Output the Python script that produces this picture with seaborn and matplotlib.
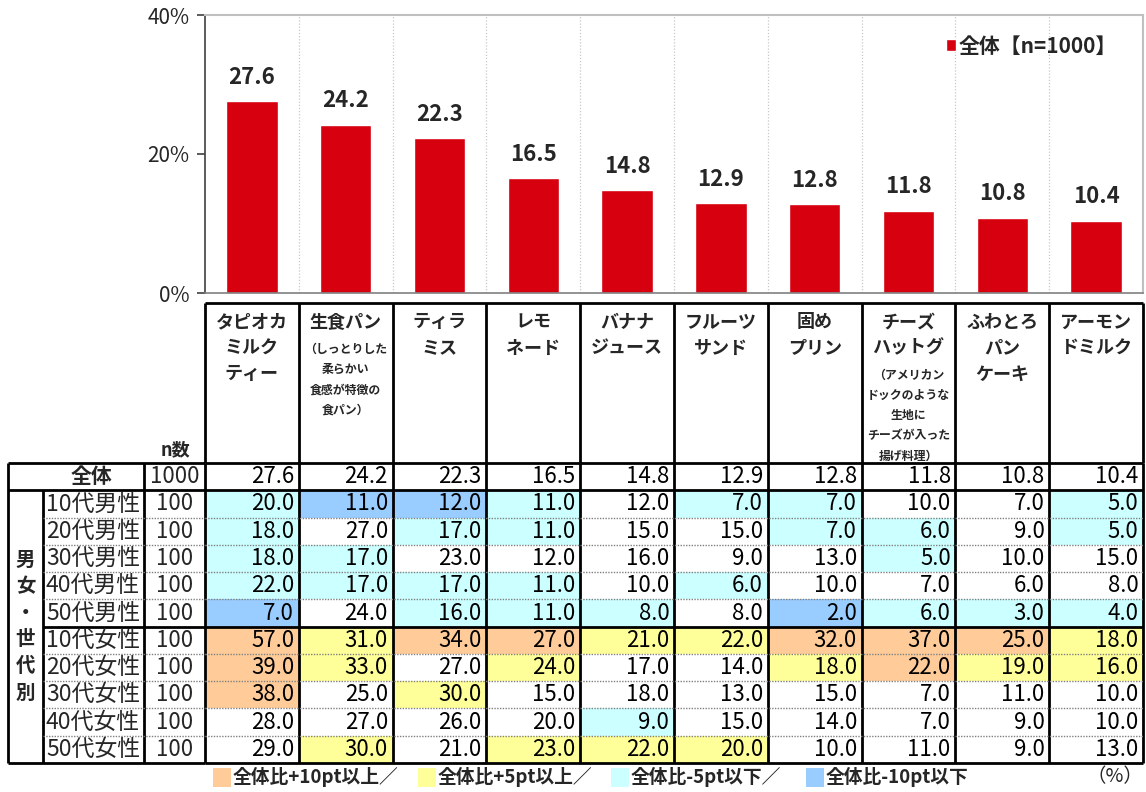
import numpy as np
import pandas as pd
import matplotlib
matplotlib.use('Agg')
import matplotlib.pyplot as plt
import seaborn as sns
from matplotlib.colors import ListedColormap
from matplotlib.patches import Patch, Rectangle

# Data
items = ['タピオカミルクティー', '生食パン', 'ティラミス', 'レモネード', 'バナナジュース',
         'フルーツサンド', '固めプリン', 'チーズハットグ', 'ふわとろパンケーキ', 'アーモンドミルク']
overall = [27.6, 24.2, 22.3, 16.5, 14.8, 12.9, 12.8, 11.8, 10.8, 10.4]
n_total = 1000

header_main = [['タピオカ', 'ミルク', 'ティー'], ['生食パン'], ['ティラ', 'ミス'], ['レモ', 'ネード'],
               ['バナナ', 'ジュース'], ['フルーツ', 'サンド'], ['固め', 'プリン'], ['チーズ', 'ハットグ'],
               ['ふわとろ', 'パン', 'ケーキ'], ['アーモン', 'ドミルク']]
header_sub = [[], ['（しっとりした', '柔らかい', '食感が特徴の', '食パン）'], [], [], [], [], [],
              ['（アメリカン', 'ドックのような', '生地に', 'チーズが入った', '揚げ料理）'], [], []]

groups = ['10代男性', '20代男性', '30代男性', '40代男性', '50代男性',
          '10代女性', '20代女性', '30代女性', '40代女性', '50代女性']
n_sizes = [100, 100, 100, 100, 100, 100, 100, 100, 100, 100]
m10 = [20, 11, 12, 11, 12, 7, 7, 10, 7, 5]
m20 = [18, 27, 17, 11, 15, 15, 7, 6, 9, 5]
m30 = [18, 17, 23, 12, 16, 9, 13, 5, 10, 15]
m40 = [22, 17, 17, 11, 10, 6, 10, 7, 6, 8]
m50 = [7, 24, 16, 11, 8, 8, 2, 6, 3, 4]
f10 = [57, 31, 34, 27, 21, 22, 32, 37, 25, 18]
f20 = [39, 33, 27, 24, 17, 14, 18, 22, 19, 16]
f30 = [38, 25, 30, 15, 18, 13, 15, 7, 11, 10]
f40 = [28, 27, 26, 20, 9, 15, 14, 7, 9, 10]
f50 = [29, 30, 21, 23, 22, 20, 10, 11, 9, 13]

legend_labels = ['全体比+10pt以上／', '全体比+5pt以上／', '全体比-5pt以下／', '全体比-10pt以下']
cell_colors = ['#FFFFFF', '#FFCC99', '#FFFF99', '#CCFFFF', '#99CCFF']
bar_color = '#D7000F'

sns.set_theme(style='white')
plt.rcParams['font.family'] = ['Noto Sans CJK JP', 'DejaVu Sans']

W, H = 1146, 792
fig = plt.figure(figsize=(W / 100, H / 100), dpi=100)
fig.patch.set_facecolor('white')


def box(x0, y0, x1, y1):
    return [x0 / W, 1 - y1 / H, (x1 - x0) / W, (y1 - y0) / H]


# Bar chart
ax_bar = fig.add_axes(box(205, 15, 1143, 293))
df = pd.DataFrame({'item': items, 'pct': overall})
sns.barplot(data=df, x='item', y='pct', color=bar_color, saturation=1, width=0.55, ax=ax_bar)
ax_bar.bar_label(ax_bar.containers[0], fmt='%.1f', padding=9, fontsize=16, fontweight='bold')
ax_bar.set_xlim(-0.5, len(items) - 0.5)
ax_bar.set_ylim(0, 40)
ax_bar.set_yticks([0, 20, 40])
ax_bar.set_yticklabels(['0%', '20%', '40%'], fontsize=15)
ax_bar.set_xticks([])
ax_bar.set_xlabel('')
ax_bar.set_ylabel('')
ax_bar.tick_params(axis='y', left=True, length=6, width=1.2, color='#404040', pad=5)
for b in np.arange(0.5, len(items) - 0.5, 1):
    ax_bar.axvline(b, color='#c8c8c8', lw=0.9, ls=(0, (1, 1.5)), zorder=0)
for side in ['top', 'right']:
    ax_bar.spines[side].set_color('#c0c0c0')
    ax_bar.spines[side].set_linewidth(1.5)
ax_bar.spines['left'].set_color('#404040')
ax_bar.spines['left'].set_linewidth(1.2)
ax_bar.spines['bottom'].set_color('#808080')
ax_bar.spines['bottom'].set_linewidth(1.2)
ax_bar.legend(handles=[Patch(facecolor=bar_color)], labels=[f'全体【n={n_total}】'],
              loc='center left', bbox_to_anchor=((946 - 205) / 938, 1 - (46 - 15) / 278),
              frameon=False, borderaxespad=0, borderpad=0, handletextpad=0.1,
              handlelength=0.5, handleheight=0.5,
              prop={'weight': 'bold', 'size': 15, 'family': ['Noto Sans CJK JP', 'DejaVu Sans']})

# Header boxes
ax_head = fig.add_axes(box(205, 303, 1143, 463))
ax_head.set_xlim(0, len(items))
ax_head.set_ylim(463, 303)
ax_head.axis('off')
ax_head.vlines(range(len(items) + 1), 303, 463, color='black', lw=2, clip_on=False)
ax_head.hlines(303, 0, len(items), color='black', lw=2, clip_on=False)
for i, (main, sub) in enumerate(zip(header_main, header_sub)):
    for k, line in enumerate(main):
        ax_head.text(i + 0.5, 322 + 26 * k, line, ha='center', va='center',
                     fontsize=13, fontweight='bold')
    y0 = 322 + 26 * len(main) + 1
    for k, line in enumerate(sub):
        ax_head.text(i + 0.5, y0 + 20.3 * k, line, ha='center', va='center',
                     fontsize=8.6, fontweight='bold')
fig.text(175 / W, 1 - 450 / H, 'n数', ha='center', va='center', fontsize=13, fontweight='bold')

# Table (heatmap)
rows = [m10, m20, m30, m40, m50, f10, f20, f30, f40, f50]
vals = np.array([overall] + rows, dtype=float)
diff = vals - np.array(overall)
cls = np.zeros_like(vals, dtype=int)
cls[diff >= 5] = 2
cls[diff >= 10] = 1
cls[diff <= -5] = 3
cls[diff <= -10] = 4
cls[0] = 0

ax_tab = fig.add_axes(box(205, 463, 1143, 763))
sns.heatmap(cls, cmap=ListedColormap(cell_colors), vmin=0, vmax=4, annot=vals, fmt='.1f',
            annot_kws={'fontsize': 16, 'color': 'black', 'ha': 'right'},
            cbar=False, xticklabels=False, yticklabels=False, linewidths=0, ax=ax_tab)
for t in ax_tab.texts:
    x, y = t.get_position()
    t.set_position((x + 0.45, y))
nr = vals.shape[0]
ax_tab.vlines(range(len(items) + 1), 0, nr, color='black', lw=2, clip_on=False)
for y in range(nr + 1):
    if y in (0, 1, 6, nr):
        ax_tab.hlines(y, 0, len(items), color='black', lw=2, clip_on=False)
    else:
        ax_tab.hlines(y, 0, len(items), color='#808080', lw=1, ls=(0, (1, 1)), clip_on=False)

# Row labels
ax_left = fig.add_axes(box(8, 463, 205, 763))
ax_left.set_xlim(8, 205)
ax_left.set_ylim(nr, 0)
ax_left.axis('off')
ax_left.vlines(8, 0, nr, color='black', lw=2, clip_on=False)
ax_left.vlines(43, 1, nr, color='black', lw=2, clip_on=False)
ax_left.vlines(144, 0, nr, color='black', lw=2, clip_on=False)
for y in range(nr + 1):
    if y in (0, 1, nr):
        ax_left.hlines(y, 8, 205, color='black', lw=2, clip_on=False)
    elif y == 6:
        ax_left.hlines(y, 43, 205, color='black', lw=2, clip_on=False)
    else:
        ax_left.hlines(y, 43, 205, color='#808080', lw=1, ls=(0, (1, 1)), clip_on=False)
ax_left.text(91, 0.5, '全体', ha='center', va='center', fontsize=15, fontweight='bold')
ax_left.text(175, 0.5, str(n_total), ha='center', va='center', fontsize=16)
for r, (g, n) in enumerate(zip(groups, n_sizes)):
    ax_left.text(93, r + 1.5, g, ha='center', va='center', fontsize=16.5)
    ax_left.text(175, r + 1.5, str(n), ha='center', va='center', fontsize=16)
for k, ch in enumerate('男女・世代別'):
    ax_left.text(25.5, 6 + (k - 2.5) * 0.975, ch, ha='center', va='center',
                 fontsize=14, fontweight='bold')

# Bottom legend
sq_x = [213, 418, 611, 806]
for x, col, lab in zip(sq_x, cell_colors[1:], legend_labels):
    fig.patches.append(Rectangle((x / W, 1 - 787 / H), 18 / W, 19 / H,
                                 transform=fig.transFigure, facecolor=col, edgecolor='none'))
    fig.text((x + 20) / W, 1 - 777 / H, lab, ha='left', va='center', fontsize=13.5, fontweight='bold')
fig.text(1143 / W, 1 - 777 / H, '（%）', ha='right', va='center', fontsize=14)

fig.savefig('out.png', dpi=100, facecolor='white')
